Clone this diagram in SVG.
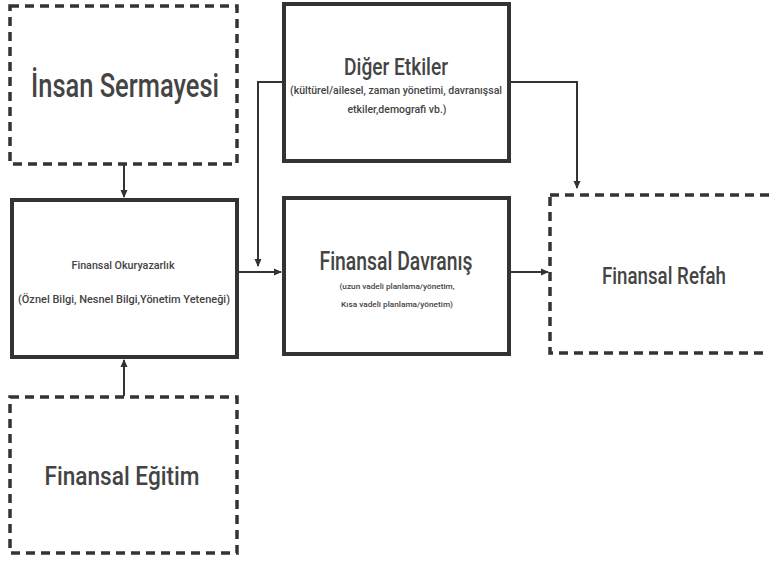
<svg xmlns="http://www.w3.org/2000/svg" width="769" height="565" viewBox="0 0 769 565">
<style>
.dash{fill:none;stroke:#333;stroke-width:3.5;stroke-dasharray:9 6}
.solid{fill:#fff;stroke:#333;stroke-width:4}
.con{fill:none;stroke:#333;stroke-width:2}
text{font-family:"Roboto","Liberation Sans",sans-serif;fill:#444;text-anchor:middle}
.big{font-weight:500}
.small{font-size:10px;font-weight:500}
.tiny{font-size:7.5px;font-weight:500}
</style>
<defs>
<marker id="ah" markerWidth="8" markerHeight="8" refX="7" refY="4" orient="auto" markerUnits="userSpaceOnUse">
<path d="M0,0.5 L8,4 L0,7.5 Z" fill="#333"/>
</marker>
</defs>
<rect width="769" height="565" fill="#fff"/>
<g id="connectors">
<line class="con" x1="124" y1="165" x2="124" y2="197" marker-end="url(#ah)"/>
<line class="con" x1="124" y1="396" x2="124" y2="360" marker-end="url(#ah)"/>
<line class="con" x1="238" y1="272" x2="281" y2="272" marker-end="url(#ah)"/>
<polyline class="con" points="283,82 258,82 258,266" marker-end="url(#ah)"/>
<polyline class="con" points="510,82 577,82 577,188" marker-end="url(#ah)"/>
<line class="con" x1="510" y1="272" x2="548" y2="272" marker-end="url(#ah)"/>
</g>
<g id="insan">
<rect class="dash" x="10" y="6" width="227" height="158"/>
<text class="big" x="125" y="97" font-size="34" textLength="188" lengthAdjust="spacingAndGlyphs">İnsan Sermayesi</text>
</g>
<g id="okuryazarlik">
<rect class="solid" x="12" y="200" width="225" height="157"/>
<text class="small" x="123" y="269" textLength="103" lengthAdjust="spacingAndGlyphs">Finansal Okuryazarlık</text>
<text class="small" x="124" y="303" textLength="212" lengthAdjust="spacingAndGlyphs">(Öznel Bilgi, Nesnel Bilgi,Yönetim Yeteneği)</text>
</g>
<g id="diger">
<rect class="solid" x="284" y="4" width="225" height="157"/>
<text class="big" x="396" y="75" font-size="23" textLength="104" lengthAdjust="spacingAndGlyphs">Diğer Etkiler</text>
<text class="small" x="396" y="94" textLength="212" lengthAdjust="spacingAndGlyphs">(kültürel/ailesel, zaman yönetimi, davranışsal</text>
<text class="small" x="397" y="113" textLength="99" lengthAdjust="spacingAndGlyphs">etkiler,demografi vb.)</text>
</g>
<g id="davranis">
<rect class="solid" x="284" y="198" width="225" height="156"/>
<text class="big" x="396" y="270" font-size="25" textLength="153" lengthAdjust="spacingAndGlyphs">Finansal Davranış</text>
<text class="tiny" x="397" y="289" textLength="115" lengthAdjust="spacingAndGlyphs">(uzun vadeli planlama/yönetim,</text>
<text class="tiny" x="397" y="307" textLength="112" lengthAdjust="spacingAndGlyphs">Kısa vadeli planlama/yönetim)</text>
</g>
<g id="refah">
<rect class="dash" x="550" y="195" width="230" height="158"/>
<text class="big" x="664" y="284" font-size="24" textLength="124" lengthAdjust="spacingAndGlyphs">Finansal Refah</text>
</g>
<g id="egitim">
<rect class="dash" x="10" y="397" width="227" height="156"/>
<text class="big" x="122" y="485" font-size="26" textLength="155" lengthAdjust="spacingAndGlyphs">Finansal Eğitim</text>
</g>
</svg>
